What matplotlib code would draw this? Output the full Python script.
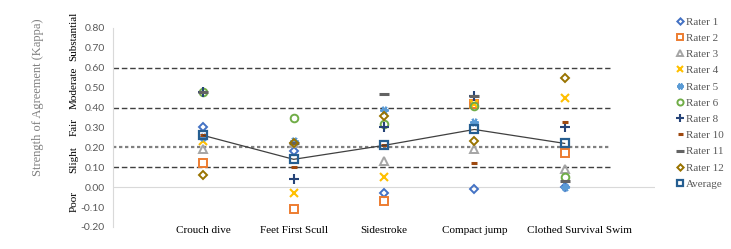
import matplotlib
matplotlib.use('Agg')
import matplotlib.pyplot as plt
import matplotlib.transforms as mtransforms
import numpy as np

# ---- data ----
tasks = ["Crouch dive", "Feet First Scull", "Sidestroke", "Compact jump", "Clothed Survival Swim"]
rater1  = [0.30, 0.18, -0.03, -0.01, 0.00]
rater2  = [0.12, -0.11, -0.07, 0.42, 0.17]
rater3  = [0.19, 0.22, 0.13, 0.19, 0.09]
rater4  = [0.23, -0.03, 0.05, 0.42, 0.45]
rater5  = [0.25, 0.23, 0.39, 0.33, 0.00]
rater6  = [0.48, 0.35, 0.32, 0.41, 0.05]
rater8  = [0.48, 0.04, 0.30, 0.46, 0.30]
rater10 = [0.26, 0.10, 0.21, 0.12, 0.33]
rater11 = [0.48, 0.22, 0.47, 0.46, 0.03]
rater12 = [0.06, 0.22, 0.36, 0.23, 0.55]
average = [0.26, 0.14, 0.21, 0.29, 0.22]

thresholds = [0.1, 0.2, 0.4, 0.6]
bands = ["Poor", "Slight", "Fair", "Moderate", "Substantial"]
band_pos = [-0.07, 0.14, 0.30, 0.50, 0.76]
yticks = np.arange(-0.2, 0.81, 0.1)

SERIF = "Liberation Serif"

fig = plt.figure(figsize=(7.31, 2.49), dpi=100)
ax = fig.add_axes([0.1546, 0.0884, 0.896 - 0.1546, 0.8876 - 0.0884])
x = np.arange(1, len(tasks) + 1)

# threshold lines
styles = {0.1: dict(color="#404040", lw=1.0, ls=(0, (4, 2))),
          0.2: dict(color="#808080", lw=1.6, ls=(0, (1.5, 1.2))),
          0.4: dict(color="#404040", lw=1.0, ls=(0, (4, 2))),
          0.6: dict(color="#404040", lw=1.0, ls=(0, (4, 2)))}
for t in thresholds:
    ax.plot([0, 5.5], [t, t], zorder=1, **styles[t])
ax.axhline(0, color="#d9d9d9", lw=0.8, zorder=0)

series = [
    ("Rater 1", rater1, dict(marker="D", ms=4, mfc="none", mec="#4472C4", mew=1.4)),
    ("Rater 2", rater2, dict(marker="s", ms=5.5, mfc="none", mec="#ED7D31", mew=1.4)),
    ("Rater 3", rater3, dict(marker="^", ms=5.5, mfc="none", mec="#A5A5A5", mew=1.4)),
    ("Rater 4", rater4, dict(marker="x", ms=5.5, mec="#FFC000", mew=1.5)),
    ("Rater 5", rater5, dict(marker=(6, 2, 90), ms=6, mec="#5B9BD5", mew=1.5)),
    ("Rater 6", rater6, dict(marker="o", ms=5.5, mfc="none", mec="#70AD47", mew=1.4)),
    ("Rater 8", rater8, dict(marker="+", ms=6.5, mec="#264478", mew=1.5)),
    ("Rater 10", rater10, dict(marker="_", ms=4.5, mec="#9E480E", mew=2.2)),
    ("Rater 11", rater11, dict(marker="_", ms=7, mec="#636363", mew=2.2)),
    ("Rater 12", rater12, dict(marker="D", ms=4, mfc="none", mec="#997300", mew=1.4)),
]
for name, vals, kw in series:
    ax.plot(x, vals, ls="none", label=name, zorder=3, **kw)
ax.plot(x, average, color="#404040", lw=0.9, marker="s", ms=5.5, mfc="none",
        mec="#255E91", mew=1.6, label="Average", zorder=4)

ax.set_xlim(0, 6)
ax.set_ylim(-0.2, 0.8)
ax.set_yticks(yticks)
ax.set_yticklabels([f"{v:.2f}" for v in yticks], fontsize=7.5, color="#595959", family="Lato")
ax.set_xticks(x)
ax.set_xticklabels(tasks, fontsize=8, family=SERIF, color="black")
ax.tick_params(axis="x", length=0, pad=-1)
ax.tick_params(axis="y", length=0, pad=6)
# last category label sits a little right of its points in the original
last = ax.get_xticklabels()[-1]
last.set_transform(last.get_transform() + mtransforms.ScaledTranslation(0.15, 0, fig.dpi_scale_trans))
for s in ["top", "right", "bottom"]:
    ax.spines[s].set_visible(False)
ax.spines["left"].set_color("#d9d9d9")
ax.spines["left"].set_linewidth(0.8)

# band labels
for lab, p in zip(bands, band_pos):
    ax.text(-0.072, p, lab, transform=ax.get_yaxis_transform(), rotation=90,
            ha="center", va="center", fontsize=8, family=SERIF, color="black")
fig.text(0.052, 1 - 97 / 249, "Strength of Agreement (Kappa)", rotation=90, ha="center",
         va="center", fontsize=9, family=SERIF, color="#7f7f7f")

leg = ax.legend(loc="upper left", bbox_to_anchor=(0.918, 0.95), bbox_transform=fig.transFigure,
                frameon=False, handlelength=0.8, handletextpad=0.15,
                labelspacing=0.58, borderaxespad=0, prop={"family": SERIF, "size": 8})
for t in leg.get_texts():
    t.set_color("#595959")
for h in leg.get_lines():
    h.set_markersize(h.get_markersize() * 0.8)
    h.set_linestyle("none")

fig.savefig("out.png", dpi=100)
